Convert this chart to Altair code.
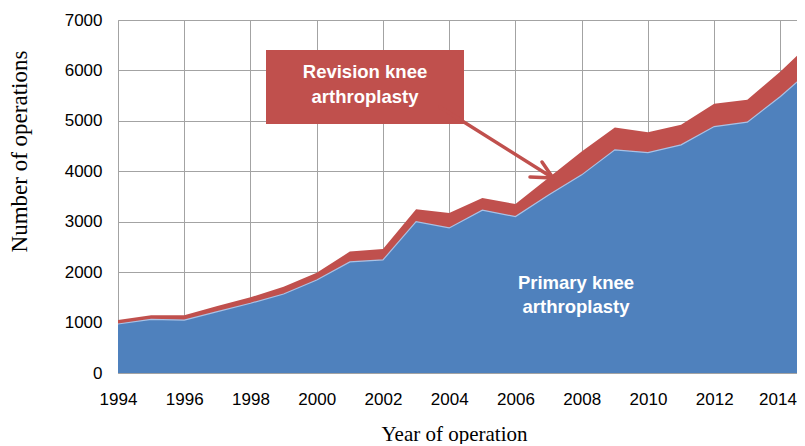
import altair as alt
import pandas as pd

years = list(range(1994, 2016))
primary = [972, 1065, 1050, 1216, 1383, 1567, 1845, 2202, 2242, 3002, 2877,
           3230, 3101, 3532, 3929, 4425, 4371, 4524, 4887, 4974, 5482, 6060]
revision = [78, 80, 95, 114, 117, 145, 145, 205, 218, 246, 298,
            240, 249, 338, 461, 442, 403, 397, 450, 443, 496, 540]
x_ticks = list(range(1994, 2015))
y_ticks = [0, 1000, 2000, 3000, 4000, 5000, 6000, 7000]

df = pd.DataFrame({"year": years, "primary": primary, "revision": revision})
df["total"] = df["primary"] + df["revision"]

BLUE = "#4F81BD"
RED = "#C0504D"
GRID = "#A3A3A3"

W, H = 679, 353

xscale = alt.Scale(domain=[1994, 2014.5], nice=False, zero=False)
yscale = alt.Scale(domain=[0, 7000], nice=False)

xaxis = alt.Axis(values=x_ticks, format="d",
                 labelExpr="datum.value % 2 == 0 ? datum.label : ''",
                 labelOffset={"condition": {"test": "datum.value == 2014", "value": -3},
                              "value": 0},
                 title="Year of operation", grid=True, gridColor=GRID,
                 tickSize=0, labelPadding=18, labelFont="Liberation Sans",
                 labelFontSize=17, labelColor="#000000",
                 titleFont="Liberation Serif", titleFontSize=21,
                 titleFontWeight="normal", titleColor="#000000",
                 titleBaseline="middle", titleX=336, titleY=61,
                 domainColor=GRID, labelFlush=False)
yaxis = alt.Axis(values=y_ticks, format="d", title="Number of operations",
                 grid=True, gridColor=GRID, tickSize=0, labelPadding=16,
                 labelFont="Liberation Sans", labelFontSize=17,
                 labelColor="#000000", titleFont="Liberation Serif",
                 titleFontSize=23, titleFontWeight="normal",
                 titleColor="#000000", titleBaseline="middle",
                 titleX=-99, titleY=131, titleAngle=270, domainColor=GRID)

base = alt.Chart(df)

red_area = base.mark_area(color=RED, clip=True, opacity=1).encode(
    x=alt.X("year:Q", scale=xscale, axis=xaxis),
    y=alt.Y("total:Q", scale=yscale, axis=yaxis),
)
blue_area = base.mark_area(color=BLUE, clip=True, opacity=1).encode(
    x=alt.X("year:Q", scale=xscale),
    y=alt.Y("primary:Q", scale=yscale),
)
blue_edge = base.mark_line(color="#A8C2E6", strokeWidth=1.2, clip=True).encode(
    x=alt.X("year:Q", scale=xscale),
    y=alt.Y("primary:Q", scale=yscale),
)

one = pd.DataFrame({"k": [0]})
box = alt.Chart(one).mark_rect(color=RED).encode(
    x=alt.value(148), x2=alt.value(346), y=alt.value(30), y2=alt.value(104))

ann_font = "Liberation Sans Narrow, Liberation Sans"


def label(txt, x, y):
    return alt.Chart(one).mark_text(text=txt, color="white", font=ann_font,
                                    fontSize=18.5, fontWeight="bold",
                                    align="center", baseline="middle").encode(
        x=alt.value(x), y=alt.value(y))


def seg(x1, y1, x2, y2):
    return alt.Chart(one).mark_rule(color=RED, strokeWidth=3.5,
                                    strokeCap="round").encode(
        x=alt.value(x1), y=alt.value(y1), x2=alt.value(x2), y2=alt.value(y2))


layers = [red_area, blue_area, blue_edge, box,
          label("Revision knee", 247, 52), label("arthroplasty", 247, 77),
          seg(322, 87, 435, 158), seg(424, 142, 435, 158), seg(412, 157, 435, 158),
          label("Primary knee", 458, 263), label("arthroplasty", 458, 287)]

chart = alt.layer(*layers).properties(
    width=W, height=H,
    autosize=alt.AutoSizeParams(type="none"),
    padding={"left": 110, "top": 12, "right": 0, "bottom": 71},
).configure_view(stroke=None).configure(background="white")

chart.save("out.html", embed_options={"renderer": "svg", "actions": False})
